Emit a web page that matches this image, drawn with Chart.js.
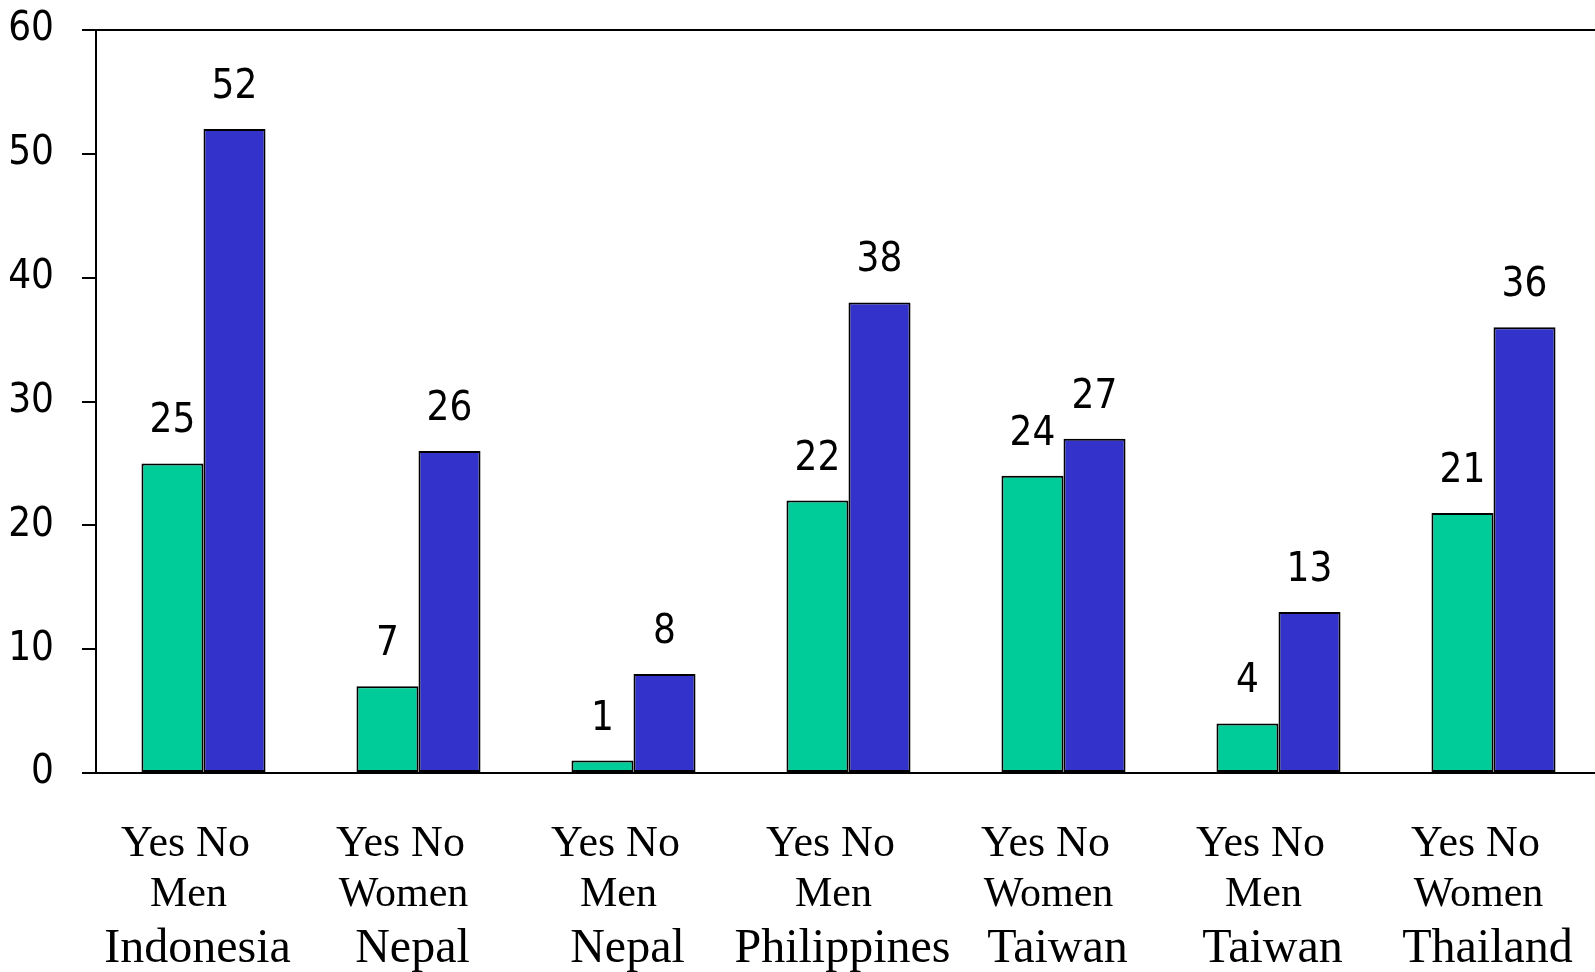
<!DOCTYPE html>
<html>
<head>
<meta charset="utf-8">
<script src="https://cdn.jsdelivr.net/npm/chart.js@4.4.0/dist/chart.umd.min.js"></script>
<style>
  html, body { margin: 0; padding: 0; background: #fff; overflow: hidden; }
  #wrap { width: 1601px; height: 972px; position: relative; }
</style>
</head>
<body>
<div id="wrap"><canvas id="survey-chart"></canvas></div>
<script>
// three label rows under each pair of bars
var answerRow = ["Yes No", "Yes No", "Yes No", "Yes No", "Yes No", "Yes No", "Yes No"];
var genderRow = ["Men", "Women", "Men", "Men", "Women", "Men", "Women"];
var countryRow = ["Indonesia", "Nepal", "Nepal", "Philippines", "Taiwan", "Taiwan", "Thailand"];

var yesValues = [25, 7, 1, 22, 24, 4, 21];
var noValues = [52, 26, 8, 38, 27, 13, 36];

var yMin = 0, yMax = 60, yStep = 10;

var digitFont = "'DejaVu Sans Condensed', 'DejaVu Sans', sans-serif";
var serifFont = "'Liberation Serif', 'Times New Roman', serif";

// numbers above the bars
var valueLabels = {
  id: "valueLabels",
  afterDatasetsDraw: function (chart) {
    var ctx = chart.ctx;
    ctx.save();
    ctx.font = "40px " + digitFont;
    ctx.fillStyle = "#000";
    ctx.textAlign = "center";
    ctx.textBaseline = "alphabetic";
    chart.data.datasets.forEach(function (ds, i) {
      chart.getDatasetMeta(i).data.forEach(function (bar, j) {
        ctx.fillText(String(ds.data[j]), bar.x, bar.y - 31);
      });
    });
    ctx.restore();
  }
};

var ctx = document.getElementById("survey-chart");
var myChart = new Chart(ctx, {
  type: "bar",
  data: {
    labels: answerRow,
    datasets: [{
      label: "Yes",
      data: yesValues,
      backgroundColor: "#00CC99",
      borderColor: "#000",
      borderWidth: 2,
      borderSkipped: false
    }, {
      label: "No",
      data: noValues,
      backgroundColor: "#3333CC",
      borderColor: "#000",
      borderWidth: 2,
      borderSkipped: false
    }]
  },
  plugins: [valueLabels],
  options: {
    responsive: true,
    maintainAspectRatio: false,
    animation: false,
    devicePixelRatio: 1,
    layout: { padding: { top: 30, left: 0, right: 0, bottom: 0 } },
    plugins: { legend: { display: false }, tooltip: { enabled: false } },
    datasets: { bar: { categoryPercentage: 0.577, barPercentage: 1 } },
    scales: {
      y: {
        min: yMin,
        max: yMax,
        // fixed axis width, and no extra room for the half-height end labels
        afterFit: function (s) { s.width = 96; s.paddingTop = 0; s.paddingBottom = 0; },
        ticks: {
          stepSize: yStep,
          color: "#000",
          padding: 28,
          font: { family: digitFont, size: 40 }
        },
        grid: {
          tickLength: 14,
          lineWidth: 2,
          tickColor: "#000",
          color: function (c) {
            return (c.tick && (c.tick.value === yMin || c.tick.value === yMax)) ? "#000" : "rgba(0,0,0,0)";
          }
        },
        border: { display: true, color: "#000", width: 2 }
      },
      x: {
        position: "bottom",
        weight: 0,
        afterFit: function (s) { s.height = 89; },
        grid: { display: false },
        border: { display: false },
        ticks: {
          color: "#000",
          padding: 38,
          maxRotation: 0,
          autoSkip: false,
          labelOffset: -18,
          font: { family: serifFont, size: 44, lineHeight: 1.15 }
        }
      },
      x2: {
        type: "category",
        labels: genderRow,
        position: "bottom",
        weight: 1,
        afterFit: function (s) { s.height = 50; },
        grid: { display: false },
        border: { display: false },
        ticks: {
          color: "#000",
          padding: 0,
          maxRotation: 0,
          autoSkip: false,
          labelOffset: -15,
          font: { family: serifFont, size: 42, lineHeight: 1.2 }
        }
      },
      x3: {
        type: "category",
        labels: countryRow,
        position: "bottom",
        weight: 2,
        afterFit: function (s) { s.height = 60; },
        grid: { display: false },
        border: { display: false },
        ticks: {
          color: "#000",
          padding: 5,
          maxRotation: 0,
          autoSkip: false,
          labelOffset: -6,
          font: { family: serifFont, size: 48, lineHeight: 1.0 }
        }
      }
    }
  }
});
</script>
</body>
</html>
